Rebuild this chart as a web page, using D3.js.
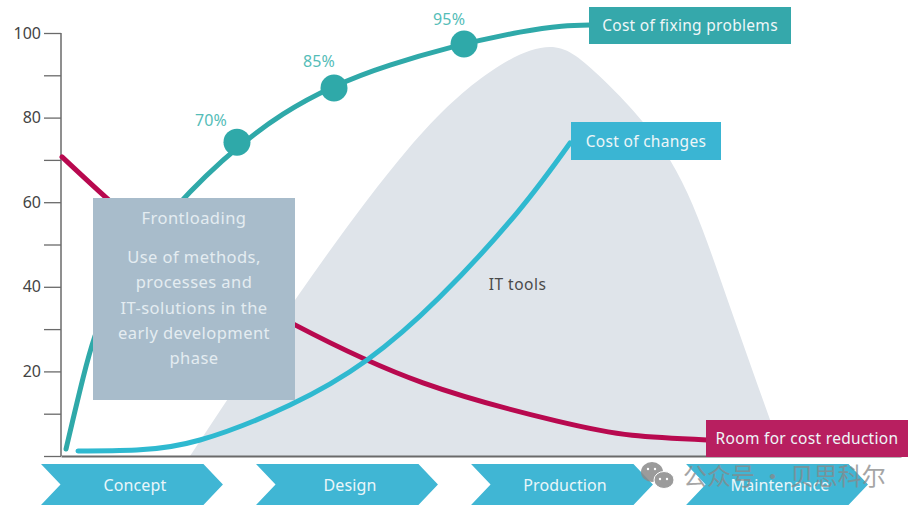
<!DOCTYPE html>
<html><head><meta charset="utf-8">
<script src="https://cdn.jsdelivr.net/npm/d3@7/dist/d3.min.js"></script>
<style>html,body{margin:0;padding:0;background:#fff}svg{display:block}text{font-family:"Noto Sans",sans-serif}</style>
</head><body><svg id="c" width="914" height="516"></svg>
<script>
const yTicks=[0,10,20,30,40,50,60,70,80,90,100];
const yLabels=[20,40,60,80,100];
const phases=["Concept","Design","Production","Maintenance"];
const itToolsX=[15.36,27.86,41.19,51.07,58.2,64,72.5,78.81,85.95];
const itToolsY=[0,36.9,72.3,90.8,96.7,90,70,40,0];
const fixingX=[0.6,2.62,6.43,15.36,26.43,39.17,54.64,62.98];
const fixingY=[1.65,18.4,39.2,62.4,80.8,92.4,100.2,101.9];
const roomX=[0.12,12.98,27.86,43.1,58.95,68,76.9];
const roomY=[70.7,48.7,31,17.3,8.3,4.9,3.8];
const changesX=[2.02,9,16.55,27.26,36.43,45,54.29,60.6];
const changesY=[1.18,1.4,3.78,12.06,22.7,37.4,57.5,74];
const markerX=[20.95,32.5,47.98];
const markerY=[74.2,87,97.4];
const markerLabels=["70%","85%","95%"];
const frontTitle="Frontloading";
const frontLines=["Use of methods,","processes and","IT-solutions in the","early development","phase"];

const svg=d3.select("#c");
const x=d3.scaleLinear().domain([0,100]).range([61,901]);
const y=d3.scaleLinear().domain([0,100]).range([456,33]);
const band=d3.scaleBand().domain(phases).range([41,868]).paddingInner(0.154).paddingOuter(0);
const zip=(a,b)=>a.map((v,i)=>[v,b[i]]);
const line=d3.line().x(d=>x(d[0])).y(d=>y(d[1])).curve(d3.curveNatural);
const area=d3.area().x(d=>x(d[0])).y0(y(0)).y1(d=>y(d[1])).curve(d3.curveNatural);

svg.append("path").datum(zip(itToolsX,itToolsY)).attr("d",area).attr("fill","#dfe4ea");
svg.append("text").attr("x",517.5).attr("y",290).attr("text-anchor","middle").attr("font-size",15.5).attr("letter-spacing",0.5).attr("fill","#4a4a4a").text("IT tools");

// axes
const ay=svg.append("g").attr("transform","translate(61,0)")
  .call(d3.axisLeft(y).tickValues(yTicks).tickSize(17).tickPadding(3).tickFormat(d=>yLabels.includes(d)?d:""));
ay.select(".domain").attr("d",`M0,${y(100)}V${y(0)}`);
ay.selectAll("line").attr("stroke","#6a6a6a").attr("stroke-width",1.3);
ay.select(".domain").attr("stroke","#6a6a6a").attr("stroke-width",1.5);
ay.selectAll("text").attr("font-size",16).attr("fill","#444").attr("font-family",'"Noto Sans",sans-serif');
const ax=svg.append("g").attr("transform",`translate(0,${y(0)})`).call(d3.axisBottom(x).tickValues([]).tickSize(0));
ax.select(".domain").attr("stroke","#6a6a6a").attr("stroke-width",1.8);

// curves
[[fixingX,fixingY,"#2fa9a9"],[roomX,roomY,"#b8094f"],[changesX,changesY,"#2fb9d0"]].forEach(([a,b,c])=>{
  svg.append("path").datum(zip(a,b)).attr("d",line).attr("fill","none").attr("stroke",c).attr("stroke-width",5).attr("stroke-linecap","round");
});
svg.selectAll(".dot").data(markerX).join("circle").attr("class","dot")
  .attr("cx",d=>x(d)).attr("cy",(d,i)=>y(markerY[i])).attr("r",13.5).attr("fill","#2fa9a9");
const pctDx=[-26,-15,-15], pctDy=[-16,-21,-19];
svg.selectAll(".pct").data(markerLabels).join("text").attr("class","pct")
  .attr("x",(d,i)=>x(markerX[i])+pctDx[i]).attr("y",(d,i)=>y(markerY[i])+pctDy[i])
  .attr("text-anchor","middle").attr("font-size",16).attr("letter-spacing",0.2).attr("fill","#55bdb8").text(d=>d);

// labelled boxes
const box=(x0,y0,w,h,fill,label,size)=>{
  svg.append("rect").attr("x",x0).attr("y",y0).attr("width",w).attr("height",h).attr("fill",fill);
  svg.append("text").attr("x",x0+w/2).attr("y",y0+h/2+5.5).attr("text-anchor","middle").attr("font-size",size).attr("letter-spacing",0.3).attr("fill","#eef6f8").text(label);
};
box(589,7,202,37,"#35a8ab","Cost of fixing problems",15.5);
box(571,122,150,38,"#3ab5d3","Cost of changes",15.5);
box(706,420,202,37,"#b81f60","Room for cost reduction",15.5);

// frontloading box
svg.append("rect").attr("x",93).attr("y",198).attr("width",202).attr("height",202).attr("fill","#a8bccb");
svg.append("text").attr("x",194).attr("y",224).attr("text-anchor","middle").attr("font-size",16.5).attr("letter-spacing",0.45).attr("fill","#e4ecf1").text(frontTitle);
svg.selectAll(".fl").data(frontLines).join("text").attr("class","fl")
  .attr("x",194).attr("y",(d,i)=>263+i*25.3).attr("text-anchor","middle").attr("font-size",16.5).attr("letter-spacing",0.45).attr("fill","#e4ecf1").text(d=>d);

// phase chevrons
const chTop=464,chBot=505,chMid=484.5,notch=19.5;
svg.selectAll(".ch").data(phases).join("path").attr("class","ch")
  .attr("d",d=>{const a=band(d),b=a+band.bandwidth();
    return `M${a},${chTop}L${b-notch},${chTop}L${b},${chMid}L${b-notch},${chBot}L${a},${chBot}L${a+notch},${chMid}Z`;})
  .attr("fill","#40b6d4");
svg.selectAll(".chl").data(phases).join("text").attr("class","chl")
  .attr("x",d=>band(d)+band.bandwidth()/2+3).attr("y",490.5).attr("text-anchor","middle")
  .attr("font-size",16).attr("letter-spacing",0.1).attr("fill","#eaf6fa").text(d=>d);

// watermark
const wm=svg.append("g").attr("fill","#8a8a8a").attr("opacity",0.85);
wm.append("ellipse").attr("cx",652).attr("cy",472).attr("rx",11).attr("ry",10);
wm.append("ellipse").attr("cx",664).attr("cy",480).attr("rx",10).attr("ry",8.5).attr("stroke","#fff").attr("stroke-width",1);
[[648,469],[655,469],[660,479],[667,479]].forEach(p=>wm.append("circle").attr("cx",p[0]).attr("cy",p[1]).attr("r",1.2).attr("fill","#fff"));
svg.append("text").attr("x",683).attr("y",485).attr("font-size",24)
  .attr("style",'font-family:"Noto Sans CJK SC",sans-serif').attr("fill","#888").attr("opacity",0.75).text("公众号 · 贝思科尔");
</script></body></html>
